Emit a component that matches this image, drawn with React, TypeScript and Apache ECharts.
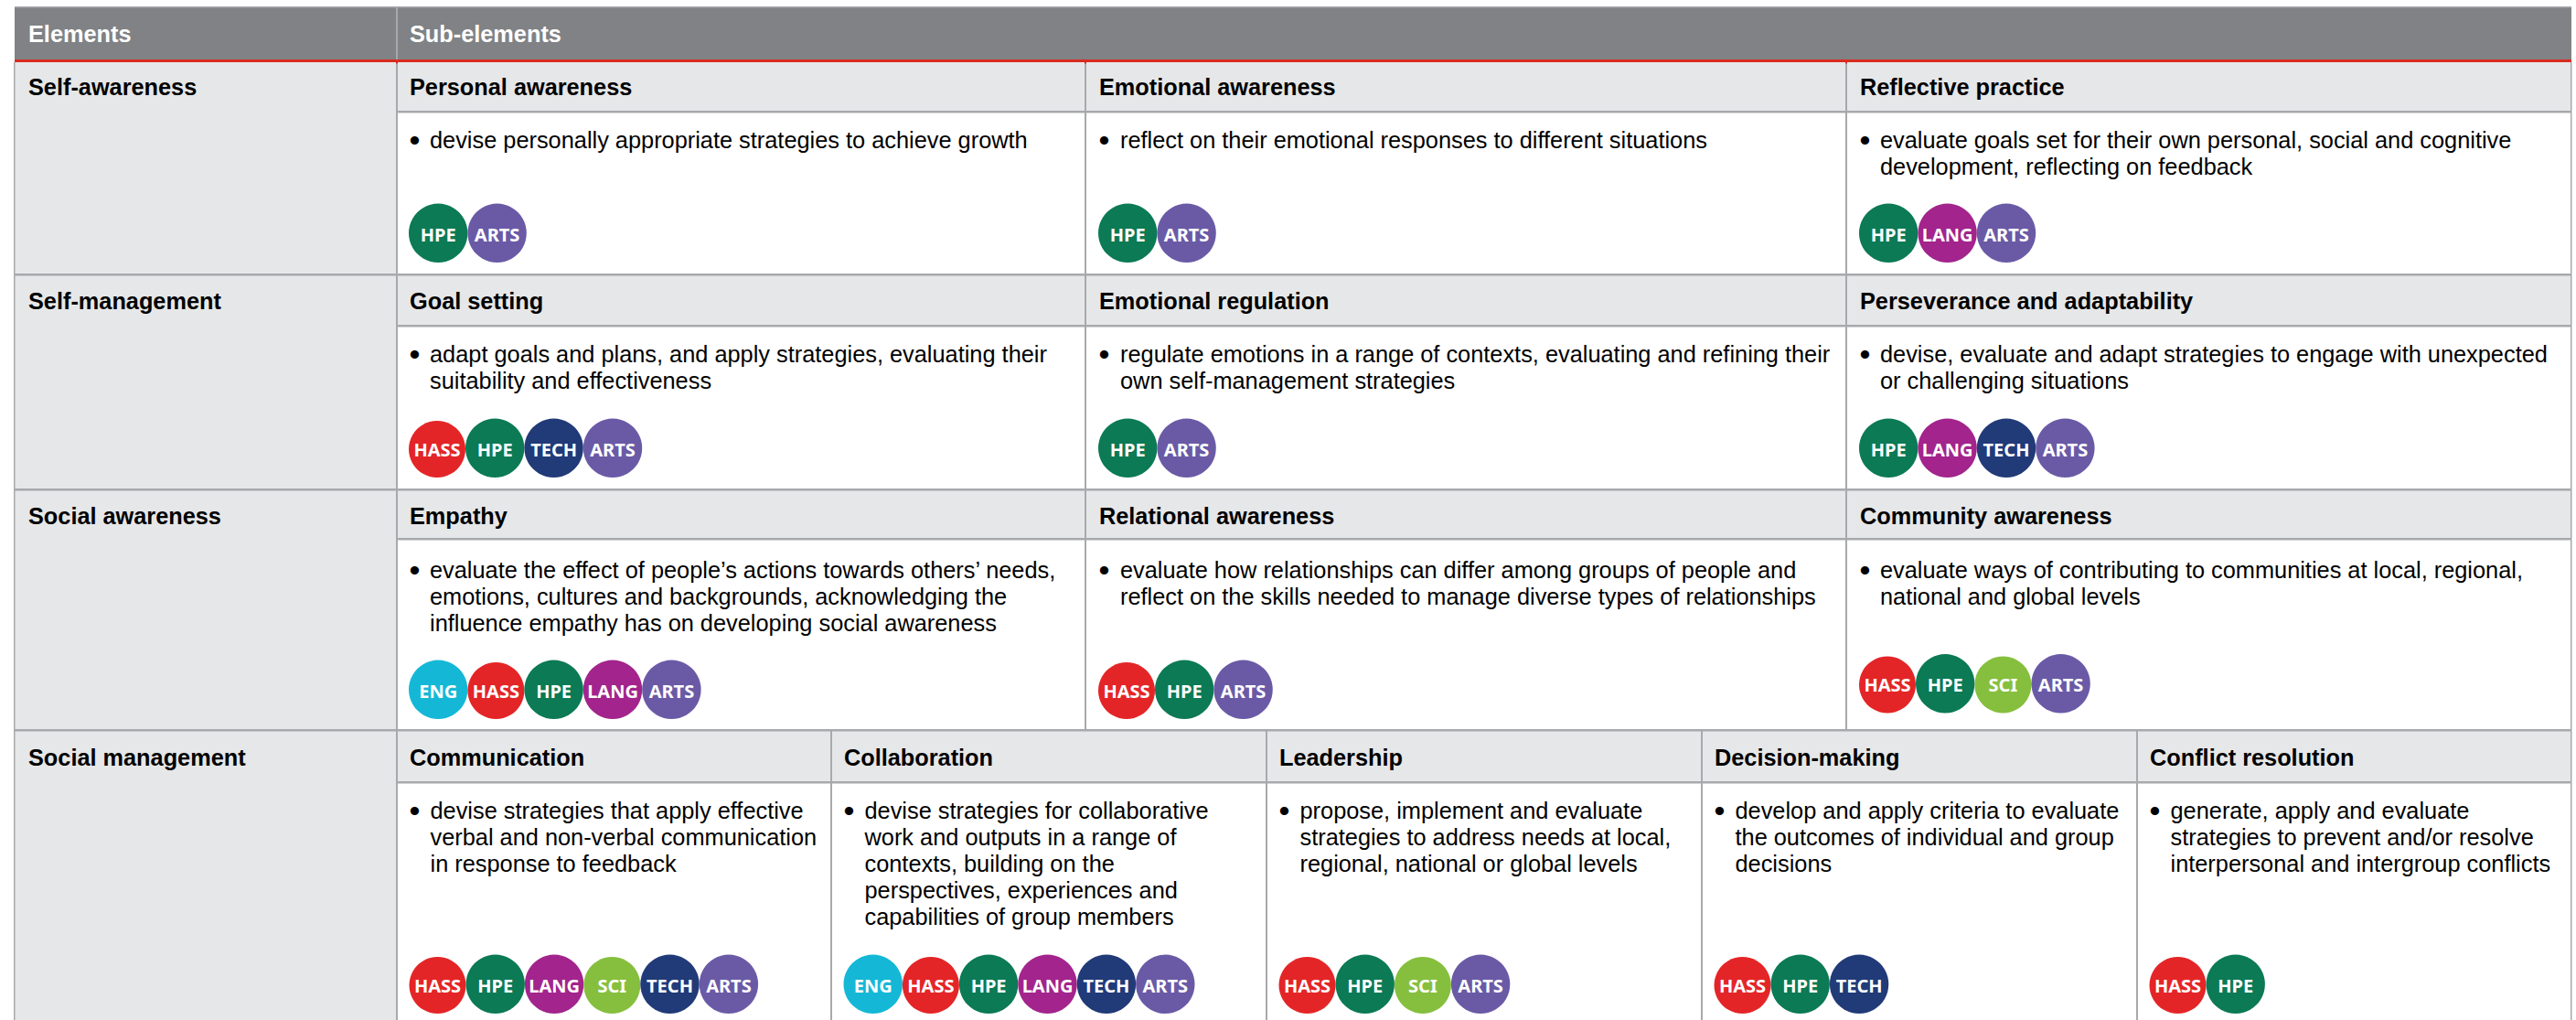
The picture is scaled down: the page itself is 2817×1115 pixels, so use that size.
import React, { useEffect, useRef } from "react";
import * as echarts from "echarts";

const headerLabels = ["Elements", "Sub-elements"];
const elementNames = ["Self-awareness", "Self-management", "Social awareness", "Social management"];

const subElementNames = [
  ["Personal awareness", "Emotional awareness", "Reflective practice"],
  ["Goal setting", "Emotional regulation", "Perseverance and adaptability"],
  ["Empathy", "Relational awareness", "Community awareness"],
  ["Communication", "Collaboration", "Leadership", "Decision-making", "Conflict resolution"],
];

const descriptions = [
  [
    ["devise personally appropriate strategies to achieve growth"],
    ["reflect on their emotional responses to different situations"],
    ["evaluate goals set for their own personal, social and cognitive", "development, reflecting on feedback"],
  ],
  [
    ["adapt goals and plans, and apply strategies, evaluating their", "suitability and effectiveness"],
    ["regulate emotions in a range of contexts, evaluating and refining their", "own self-management strategies"],
    ["devise, evaluate and adapt strategies to engage with unexpected", "or challenging situations"],
  ],
  [
    ["evaluate the effect of people\u2019s actions towards others\u2019 needs,", "emotions, cultures and backgrounds, acknowledging the", "influence empathy has on developing social awareness"],
    ["evaluate how relationships can differ among groups of people and", "reflect on the skills needed to manage diverse types of relationships"],
    ["evaluate ways of contributing to communities at local, regional,", "national and global levels"],
  ],
  [
    ["devise strategies that apply effective", "verbal and non-verbal communication", "in response to feedback"],
    ["devise strategies for collaborative", "work and outputs in a range of", "contexts, building on the", "perspectives, experiences and", "capabilities of group members"],
    ["propose, implement and evaluate", "strategies to address needs at local,", "regional, national or global levels"],
    ["develop and apply criteria to evaluate", "the outcomes of individual and group", "decisions"],
    ["generate, apply and evaluate", "strategies to prevent and/or resolve", "interpersonal and intergroup conflicts"],
  ],
];

const subjects = [
  [["HPE", "ARTS"], ["HPE", "ARTS"], ["HPE", "LANG", "ARTS"]],
  [["HASS", "HPE", "TECH", "ARTS"], ["HPE", "ARTS"], ["HPE", "LANG", "TECH", "ARTS"]],
  [["ENG", "HASS", "HPE", "LANG", "ARTS"], ["HASS", "HPE", "ARTS"], ["HASS", "HPE", "SCI", "ARTS"]],
  [
    ["HASS", "HPE", "LANG", "SCI", "TECH", "ARTS"],
    ["ENG", "HASS", "HPE", "LANG", "TECH", "ARTS"],
    ["HASS", "HPE", "SCI", "ARTS"],
    ["HASS", "HPE", "TECH"],
    ["HASS", "HPE"],
  ],
];

// ---- styling and layout ----
const subjectColors: Record<string, string> = {
  ENG: "#14B8D6", HASS: "#E42527", HPE: "#0B7A55", LANG: "#A2248C", SCI: "#86BF3E", TECH: "#213A78", ARTS: "#6A5AA6",
};
const smallBadges = new Set(["HASS", "SCI"]);
const FONT = '"Liberation Sans", Arial, sans-serif';
const GREY = "#808285", LIGHT = "#E6E7E8", LINE = "#A7A9AC", RED = "#D92B20";

const L = 16, R = 2812, C0 = 434;
const colEdges3 = [434, 1187, 2019, 2812];
const colEdges5 = [434, 909, 1385, 1861, 2337, 2812];
const rowTop = [68, 300, 535, 798];
const headBottom = [122, 356, 589, 855];
const rowBottom = [300, 535, 798, 1115];
const headCenter = [94.5, 329, 563.5, 828];
const bodyCenter = [152.5, 387, 623, 886];
const badgeBottom = [[287, 287, 287], [522, 522, 522], [786, 786, 779.5], [1108, 1108, 1108, 1108, 1108]];
const headInset3 = [14, 15, 15];
const bodyInset3 = [36, 38, 37];
const badgeInset3 = [13, 14, 14];

function buildGraphics() {
  const els: any[] = [];
  const rect = (x: number, y: number, w: number, h: number, fill: string) =>
    els.push({ type: "rect", silent: true, shape: { x, y, width: w, height: h }, style: { fill } });
  const text = (x: number, y: number, t: string, size: number, weight: string, fill: string, align = "left") =>
    els.push({ type: "text", silent: true, x, y, style: { text: t, fontSize: size, fontWeight: weight, fill, fontFamily: FONT, verticalAlign: "middle", align } });
  const badgeText = (x: number, y: number, t: string) =>
    els.push({ type: "text", silent: true, x, y, style: { text: t, fontSize: 20, fontWeight: "bold", fill: "#fff", fontFamily: '"Noto Sans", sans-serif', verticalAlign: "middle", align: "center" } });

  // header
  rect(L, 7, R - L, 58, GREY);
  rect(L, 7, R - L, 1.5, LINE);
  rect(C0 - 1, 7, 2, 58, LINE);
  headerLabels.forEach((t, i) => text(i === 0 ? 31 : 448, 37, t, 25.3, "bold", "#fff"));

  elementNames.forEach((name, r) => {
    const edges = r === 3 ? colEdges5 : colEdges3;
    const top = rowTop[r], hb = headBottom[r], bot = rowBottom[r];
    rect(L, top, C0 - L, bot - top, LIGHT);
    rect(C0, top, R - C0, hb - top, LIGHT);
    // grid lines
    rect(L - 1, top, 1.5, bot - top, LINE);
    rect(R - 1, top, 1.5, bot - top, LINE);
    if (r > 0) rect(L, top - 1, R - L, 2.5, LINE);
    rect(C0, hb - 1, R - C0, 2.5, LINE);
    edges.slice(0, -1).forEach((x) => rect(x - 1, top, 2, bot - top, LINE));

    text(31, headCenter[r], name, 25.3, "bold", "#000");
    subElementNames[r].forEach((sub, c) => {
      const x = edges[c];
      const headIn = r === 3 ? 14 : headInset3[c];
      const bodyIn = r === 3 ? 36.5 : bodyInset3[c];
      const badgeIn = r === 3 ? 13.5 : badgeInset3[c];
      text(x + headIn, headCenter[r], sub, 25.3, "bold", "#000");
      text(x + headIn + 5.5, bodyCenter[r], "\u2022", 34, "normal", "#000", "center");
      descriptions[r][c].forEach((line, i) => text(x + bodyIn, bodyCenter[r] + i * 29, line, 25.35, "normal", "#000"));
      let cx = x + badgeIn;
      subjects[r][c].forEach((s) => {
        const rad = smallBadges.has(s) ? 31 : 32.2;
        const bottom = badgeBottom[r][c];
        els.push({ type: "circle", silent: true, shape: { cx: cx + rad, cy: bottom - rad, r: rad }, style: { fill: subjectColors[s] } });
        badgeText(cx + rad, bottom - 31, s);
        cx += rad * 2;
      });
    });
  });
  // red rule under the header, with its small ticks at the column lines
  rect(L, 65, R - L, 3, RED);
  colEdges3.slice(0, -1).forEach((x) => rect(x - 1, 68, 2, 1.5, RED));
  return els;
}

export default function App() {
  const ref = useRef<HTMLDivElement>(null);
  useEffect(() => {
    document.body.style.margin = "0";
    const chart = echarts.init(ref.current!, undefined, { renderer: "svg" });
    chart.setOption({ animation: false, backgroundColor: "#fff", graphic: { elements: buildGraphics() } });
    return () => chart.dispose();
  }, []);
  return <div ref={ref} style={{ width: 2817, height: 1115 }} />;
}
